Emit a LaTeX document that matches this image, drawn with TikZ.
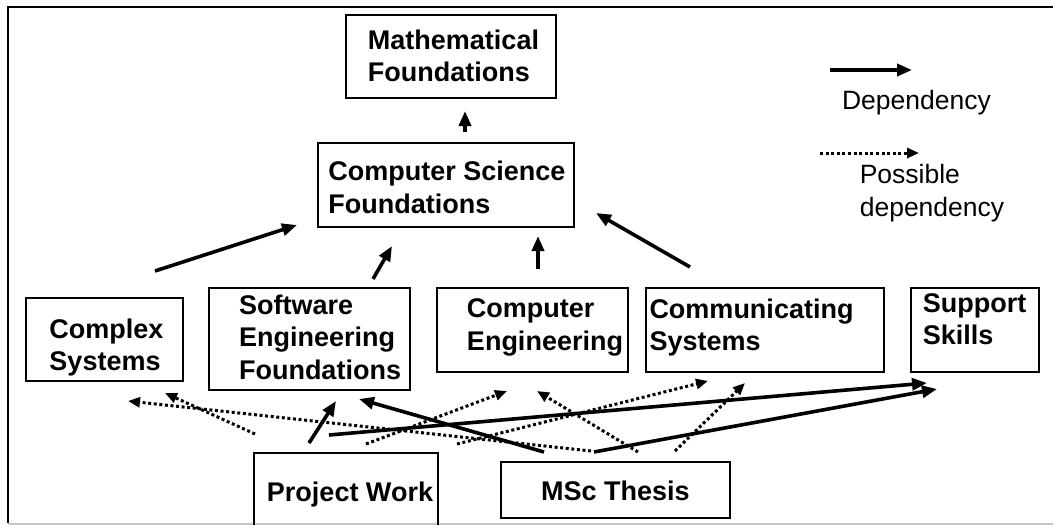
\documentclass[tikz,border=0pt]{standalone}
\usepackage{fontspec}
\setmainfont{Liberation Sans}
\usetikzlibrary{arrows.meta,positioning,calc}

\begin{document}
\begin{tikzpicture}[
  x=1pt, y=-1pt,
  box/.style={draw, line width=2pt, inner sep=0pt},
  txt/.style={align=left, inner sep=0pt, font=\fontsize{27}{32.5}\selectfont\bfseries},
  legend/.style={align=left, inner sep=0pt, font=\fontsize{26.5}{33}\selectfont},
  dep/.style={-{Triangle[length=15pt, width=12pt]}, line width=3.6pt},
  maybe/.style={-{Triangle[length=12pt, width=10pt]}, line width=3pt, dash pattern=on 3pt off 2.6pt},
]
  \clip (0,0) rectangle (1053,525);
  \draw[line width=2.2pt] (1060,7) -- (8,7) -- (8,523);
  \draw[line width=2pt, gray!45] (8,524) -- (1060,524);

  \node[box, minimum width=210pt, minimum height=83pt] (math) at (451,56.5) {};
  \node[box, minimum width=256pt, minimum height=84pt] (csf) at (446,185) {};
  \node[box, minimum width=157pt, minimum height=83pt] (cplx) at (104.5,339.5) {};
  \node[box, minimum width=201pt, minimum height=102pt] (sef) at (309.5,339) {};
  \node[box, minimum width=191pt, minimum height=84pt] (ce) at (532.5,330) {};
  \node[box, minimum width=238pt, minimum height=84pt] (comm) at (765,330) {};
  \node[box, minimum width=128pt, minimum height=84pt] (supp) at (975,330) {};
  \node[box, minimum width=184pt, minimum height=88pt] (proj) at (346,497) {};
  \node[box, minimum width=229pt, minimum height=56pt] (msc) at (615.5,490) {};

  \node[txt] (math-t) at ($(math)+(2.5,-0.5)$) {Mathematical\\Foundations};
  \node[txt] (csf-t) at ($(csf)+(1,2.5)$) {Computer Science\\Foundations};
  \node[txt] (cplx-t) at ($(cplx)+(2,8)$) {Complex\\Systems};
  \node[txt] (sef-t) at ($(sef)+(10.5,-2)$) {Software\\Engineering\\Foundations};
  \node[txt] (ce-t) at ($(ce)+(12.5,-2.5)$) {Computer\\Engineering};
  \node[txt] (comm-t) at ($(comm)+(-13.5,-2.5)$) {Communicating\\Systems};
  \node[txt] (supp-t) at ($(supp)+(-0.5,-11)$) {Support\\Skills};
  \node[txt] (proj-t) at ($(proj)+(4,-2)$) {Project Work};
  \node[txt] (msc-t) at ($(msc)+(0,1)$) {MSc Thesis};

  \draw[dep] ($(csf.north)+(19,-10)$) -- ($(math.south)+(14,12)$);
  \draw[dep] ($(cplx.north)+(50.5,-26)$) -- ($(csf.west)+(-20,40)$);
  \draw[dep] ($(sef.north)+(63.5,-8)$) -- ($(csf.south)+(-54,18)$);
  \draw[dep] ($(ce.north)+(5.5,-18)$) -- ($(csf.south)+(92,8)$);
  \draw[dep] ($(comm.north)+(-75,-20)$) -- ($(csf.east)+(21,28)$);

  \draw[maybe] ($(proj.north)+(-91,-18)$) -- ($(cplx.south)+(60.5,11)$);
  \draw[maybe] ($(msc.north)+(-24.5,-10)$) -- ($(cplx.south)+(23.5,19)$);
  \draw[maybe] ($(proj.north)+(20,-8)$) -- ($(ce.south)+(-25.5,18)$);
  \draw[maybe] ($(proj.north)+(111,-8)$) -- ($(comm.south)+(-57,8)$);
  \draw[maybe] ($(msc.north)+(22.5,-9)$) -- ($(ce.south)+(4.5,18)$);
  \draw[maybe] ($(msc.north)+(59.5,-10)$) -- ($(comm.south)+(-20,10)$);

  \draw[dep] ($(proj.north)+(-37,-9)$) -- ($(sef.south)+(26.5,10)$);
  \draw[dep] ($(proj.north)+(-17,-17)$) -- ($(supp.south)+(-48,10)$);
  \draw[dep] ($(msc.north)+(-71.5,-9)$) -- ($(sef.south)+(49.5,8)$);
  \draw[dep] ($(msc.north)+(-21.5,-9)$) -- ($(supp.south)+(-38,16)$);

  \coordinate (dep-a) at (830,70);
  \coordinate (dep-b) at (912,70);
  \coordinate (maybe-a) at (820,153);
  \coordinate (maybe-b) at (919,153);
  \draw[dep] (dep-a) -- (dep-b);
  \node[legend] (dep-t) at (916.5,103) {Dependency};
  \draw[maybe] (maybe-a) -- (maybe-b);
  \node[legend] (maybe-t) at (932,193.5) {Possible\\dependency};
\end{tikzpicture}
\end{document}
